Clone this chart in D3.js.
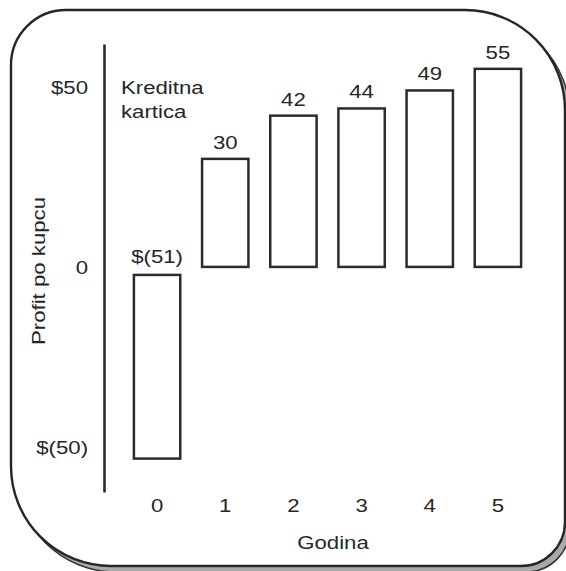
<!DOCTYPE html>
<html>
<head>
<meta charset="utf-8">
<script src="https://cdn.jsdelivr.net/npm/d3@7"></script>
<style>
  html, body { margin: 0; padding: 0; background: #fff; }
  svg { display: block; }
  text { font-family: "Liberation Sans", Arial, sans-serif; fill: #262626; }
</style>
</head>
<body>
<svg id="chart" width="566" height="571"></svg>
<script>
// ---- data ----
const years = ["0", "1", "2", "3", "4", "5"];
const profits = [-51, 30, 42, 44, 49, 55];
const yTickValues = [50, 0, -50];
const yTickLabels = ["$50", "0", "$(50)"];
const annotationLines = ["Kreditna", "kartica"];
const yTitle = "Profit po kupcu";
const xTitle = "Godina";

const FS = 18.5, SX = 1.2;
const ink = "#2b2b2b";

const svg = d3.select("#chart");

// ---- frame with shadow ----
function framePath(L, T, R, B, rTL, rTR, rBR, rBL) {
  const p = d3.path();
  p.moveTo(L + rTL, T);
  p.lineTo(R - rTR, T);
  p.arcTo(R, T, R, T + rTR, rTR);
  p.lineTo(R, B - rBR);
  p.arcTo(R, B, R - rBR, B, rBR);
  p.lineTo(L + rBL, B);
  p.arcTo(L, B, L, B - rBL, rBL);
  p.lineTo(L, T + rTL);
  p.arcTo(L, T, L + rTL, T, rTL);
  p.closePath();
  return p.toString();
}
const fr = [11, 10, 565, 566, 55, 100, 44, 100];
svg.append("path")
  .attr("d", framePath(...fr))
  .attr("transform", "translate(5,6)")
  .attr("fill", "#a9a9a9")
  .attr("stroke", "#333")
  .attr("stroke-width", 1.5);
svg.append("path")
  .attr("d", framePath(...fr))
  .attr("fill", "#fff")
  .attr("stroke", "#262626")
  .attr("stroke-width", 2.4);

// ---- scales ----
const x = d3.scaleBand()
  .domain(years)
  .range([123, 532])
  .paddingInner(0.32)
  .paddingOuter(0.16);

const y = d3.scaleLinear()
  .domain([-62.5, 61.9])
  .range([492, 44]);

// ---- y axis ----
const yAxis = svg.append("g")
  .attr("transform", "translate(104,0)")
  .call(d3.axisLeft(y)
    .tickValues(yTickValues)
    .tickSize(0)
    .tickPadding(0)
    .tickFormat((d, i) => yTickLabels[i]));
yAxis.select(".domain")
  .attr("stroke", ink)
  .attr("stroke-width", 2.6);
yAxis.selectAll(".tick text")
  .attr("x", -13.3)
  .attr("dy", "0.36em")
  .attr("transform", `scale(${SX},1)`)
  .style("font-family", "'Liberation Sans', Arial, sans-serif")
  .style("font-size", FS + "px")
  .attr("fill", "#262626");

// ---- x axis (labels only) ----
const xAxis = svg.append("g")
  .attr("transform", "translate(0,492)")
  .call(d3.axisBottom(x).tickSize(0).tickPadding(7));
xAxis.select(".domain").remove();
xAxis.selectAll(".tick text")
  .attr("transform", `scale(${SX},1)`)
  .style("font-family", "'Liberation Sans', Arial, sans-serif")
  .style("font-size", FS + "px")
  .attr("fill", "#262626");

// ---- bars ----
const negGap = 8;
svg.append("g").selectAll("rect")
  .data(profits)
  .join("rect")
  .attr("x", (d, i) => x(years[i]))
  .attr("width", x.bandwidth())
  .attr("y", d => d >= 0 ? y(d) : y(0) + negGap)
  .attr("height", d => Math.abs(y(d) - y(0)))
  .attr("fill", "#fff")
  .attr("stroke", ink)
  .attr("stroke-width", 2.5);

// ---- value labels ----
const fmtVal = d => d < 0 ? `$(${Math.abs(d)})` : `${d}`;
svg.append("g").selectAll("text")
  .data(profits)
  .join("text")
  .attr("transform", (d, i) => {
    const cx = x(years[i]) + x.bandwidth() / 2;
    const by = d >= 0 ? y(d) - 10 : y(0) - 4;
    return `translate(${cx},${by}) scale(${SX},1)`;
  })
  .attr("text-anchor", "middle")
  .style("font-size", FS + "px")
  .text(fmtVal);

// ---- annotation ----
svg.append("g").selectAll("text")
  .data(annotationLines)
  .join("text")
  .attr("transform", (d, i) => `translate(121,${94 + i * 24}) scale(${SX},1)`)
  .attr("text-anchor", "start")
  .style("font-size", FS + "px")
  .text(d => d);

// ---- axis titles ----
svg.append("text")
  .attr("transform", `translate(45,271) rotate(-90) scale(${SX},1)`)
  .attr("text-anchor", "middle")
  .style("font-size", FS + "px")
  .text(yTitle);

svg.append("text")
  .attr("transform", `translate(333,549) scale(${SX},1)`)
  .attr("text-anchor", "middle")
  .style("font-size", FS + "px")
  .text(xTitle);
</script>
</body>
</html>
